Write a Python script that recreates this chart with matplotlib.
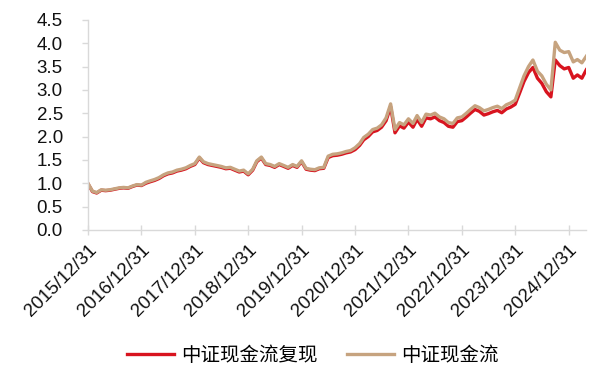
'''
中证现金流 vs 中证现金流复现, monthly net value since 2015/12/31
'''

import numpy as np
import pandas as pd
import matplotlib
matplotlib.use('Agg')
import matplotlib.pyplot as plt
import matplotlib.dates as mdates

plt.rcParams['font.family'] = ['Liberation Sans', 'Noto Sans CJK SC', 'DejaVu Sans']

# month-end dates, 2015/12 .. 2025/04
dates = pd.date_range('2015-12-31', periods=113, freq='ME')

# 中证现金流
index_nav = [
    1.00,
    0.83, 0.80, 0.86, 0.85, 0.86, 0.88, 0.90, 0.91, 0.90, 0.94, 0.97, 0.96,
    1.02, 1.05, 1.08, 1.12, 1.18, 1.22, 1.24, 1.28, 1.30, 1.33, 1.38, 1.42,
    1.56, 1.46, 1.42, 1.40, 1.38, 1.36, 1.33, 1.34, 1.30, 1.26, 1.28, 1.20,
    1.30, 1.48, 1.56, 1.42, 1.40, 1.36, 1.42, 1.38, 1.34, 1.40, 1.36, 1.48,
    1.32, 1.30, 1.29, 1.33, 1.34, 1.58, 1.62, 1.63, 1.65, 1.68, 1.70, 1.76,
    1.85, 1.98, 2.05, 2.15, 2.18, 2.25, 2.40, 2.70, 2.15, 2.30, 2.25, 2.38,
    2.28, 2.45, 2.30, 2.48, 2.46, 2.50, 2.42, 2.38, 2.30, 2.28, 2.40, 2.42,
    2.50, 2.58, 2.66, 2.62, 2.55, 2.58, 2.62, 2.65, 2.60, 2.68, 2.72, 2.78,
    3.05, 3.30, 3.50, 3.64, 3.40, 3.30, 3.12, 3.00, 4.02, 3.85, 3.80, 3.82,
    3.60, 3.65, 3.58, 3.72,
]

# 中证现金流复现
replica_nav = [
    0.99,
    0.82, 0.79, 0.85, 0.84, 0.85, 0.87, 0.89, 0.90, 0.89, 0.93, 0.96, 0.95,
    1.00, 1.03, 1.06, 1.10, 1.16, 1.20, 1.22, 1.26, 1.28, 1.31, 1.36, 1.40,
    1.54, 1.44, 1.40, 1.38, 1.36, 1.34, 1.31, 1.32, 1.28, 1.24, 1.26, 1.18,
    1.28, 1.46, 1.54, 1.40, 1.38, 1.34, 1.40, 1.36, 1.32, 1.38, 1.34, 1.46,
    1.30, 1.28, 1.27, 1.31, 1.32, 1.55, 1.59, 1.60, 1.62, 1.65, 1.67, 1.72,
    1.81, 1.93, 2.00, 2.10, 2.13, 2.20, 2.34, 2.64, 2.08, 2.23, 2.18, 2.31,
    2.20, 2.37, 2.22, 2.40, 2.38, 2.42, 2.34, 2.30, 2.22, 2.20, 2.32, 2.34,
    2.42, 2.50, 2.58, 2.54, 2.46, 2.49, 2.53, 2.56, 2.51, 2.59, 2.63, 2.69,
    2.94, 3.18, 3.37, 3.48, 3.25, 3.14, 2.96, 2.85, 3.64, 3.52, 3.45, 3.48,
    3.25, 3.32, 3.25, 3.43,
]

tick_dates = pd.to_datetime(['%d-12-31' % y for y in range(2015, 2025)])

red = '#d8141f'
tan = '#c6a37f'
grey = '#d9d9d9'

fig = plt.figure(figsize=(5.94, 3.75), dpi=100)
ax = fig.add_axes([0.148, 0.387, 0.839, 0.560])

ax.plot(dates, replica_nav, color=red, linewidth=2.4, label='中证现金流复现')
ax.plot(dates, index_nav, color=tan, linewidth=2.4, label='中证现金流')

ax.set_ylim(0, 4.5)
ax.set_yticks(np.arange(0, 4.51, 0.5))
ax.set_yticklabels(['%.1f' % v for v in np.arange(0, 4.51, 0.5)])
ax.set_xlim(dates[0], dates[-1])
ax.set_xticks(tick_dates)
ax.xaxis.set_major_formatter(mdates.DateFormatter('%Y/%m/%d'))

for s in ['top', 'right']:
    ax.spines[s].set_visible(False)
for s in ['left', 'bottom']:
    ax.spines[s].set_color(grey)
    ax.spines[s].set_linewidth(1.0)

ax.tick_params(axis='x', colors=grey, labelcolor='#111111', labelsize=13.5,
               direction='inout', length=7, width=1.0, pad=5)
ax.tick_params(axis='y', colors=grey, labelcolor='#111111', labelsize=13.5,
               length=4, width=1.0, pad=14)
plt.setp(ax.get_xticklabels(), rotation=45, ha='right', rotation_mode='anchor')

fig.legend(loc='lower center', bbox_to_anchor=(0.527, -0.022), ncol=2, frameon=False,
           prop={'family': 'Noto Sans CJK SC', 'size': 14},
           handlelength=2.4, handletextpad=0.4, columnspacing=1.5)

plt.savefig('out.png', dpi=100)
